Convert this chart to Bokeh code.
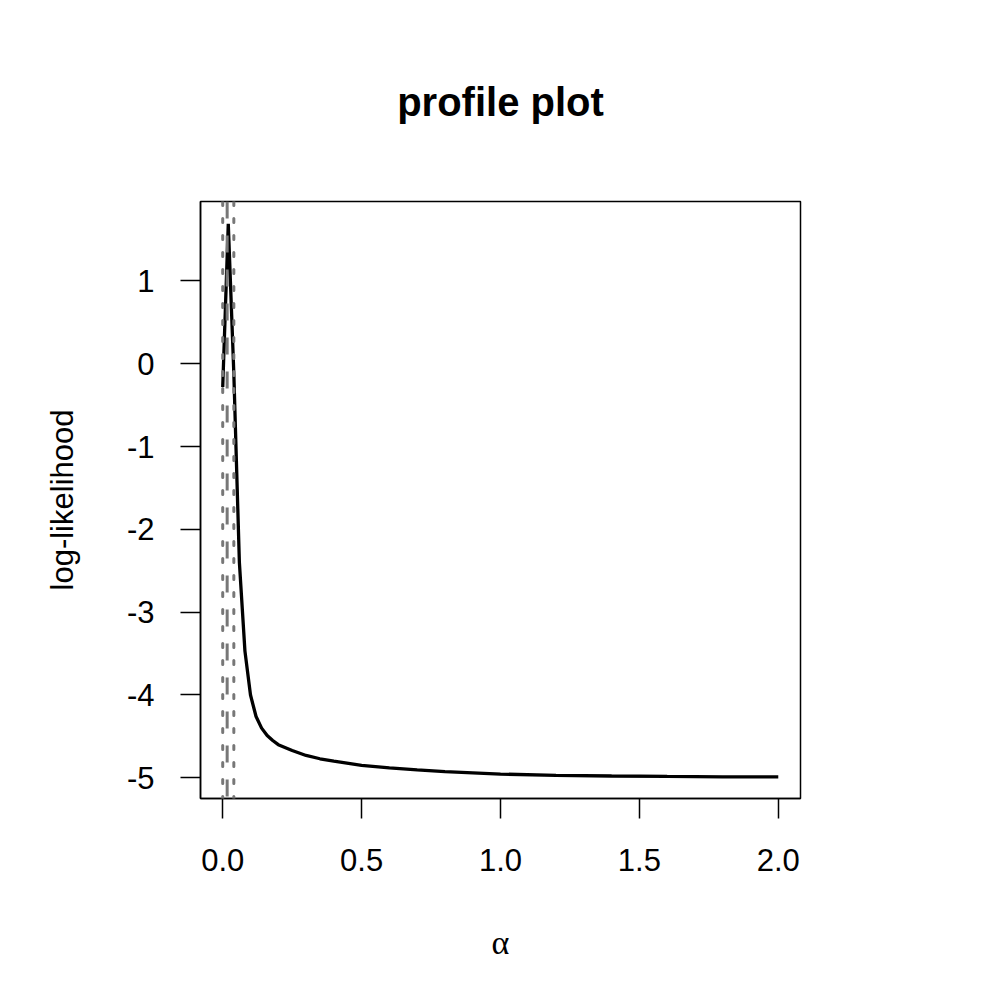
from bokeh.plotting import figure
from bokeh.models import Span, FixedTicker, Range1d
from bokeh.embed import file_html
from bokeh.resources import INLINE

# profile log-likelihood curve
alpha = [0.00, 0.02, 0.04, 0.06, 0.08, 0.10, 0.12, 0.14, 0.16, 0.18, 0.20,
         0.25, 0.30, 0.35, 0.40, 0.50, 0.60, 0.70, 0.80, 0.90, 1.00,
         1.20, 1.40, 1.60, 1.80, 2.00]
loglik = [-0.28, 1.69, -0.12, -2.40, -3.47, -4.00, -4.26, -4.40, -4.49, -4.55, -4.60,
          -4.67, -4.73, -4.77, -4.80, -4.85, -4.88, -4.905, -4.925, -4.94, -4.955,
          -4.97, -4.978, -4.984, -4.988, -4.99]

# vertical reference lines
ci_lines = [0.0, 0.04]     # dotted
mle_line = [0.016]         # dashed

x_ticks = [0.0, 0.5, 1.0, 1.5, 2.0]
x_tick_labels = ["0.0", "0.5", "1.0", "1.5", "2.0"]
y_ticks = [-5, -4, -3, -2, -1, 0, 1]
y_tick_labels = ["-5", "-4", "-3", "-2", "-1", "0", "1"]

FONT = "Liberation Sans"

p = figure(width=984, height=984, output_backend="svg", toolbar_location=None,
           x_range=Range1d(-0.08, 2.08), y_range=Range1d(-5.25, 1.96),
           min_border_left=200, min_border_right=184,
           min_border_top=200, min_border_bottom=186,
           title="profile plot")

p.title.text_font = FONT
p.title.text_font_size = "40px"
p.title.text_font_style = "bold"
p.title.align = "center"
p.title.standoff = 155
p.title.text_color = "black"

p.grid.visible = False
p.outline_line_color = "black"
p.outline_line_width = 1.5
p.background_fill_color = "white"
p.border_fill_color = "white"

p.line(alpha, loglik, line_color="black", line_width=3.3)

for xv in ci_lines:
    p.add_layout(Span(location=xv, dimension="height", line_color="#777777",
                      line_width=3, line_dash="4 13", line_cap="round"))
for xv in mle_line:
    p.add_layout(Span(location=xv, dimension="height", line_color="#777777",
                      line_width=3, line_dash="17 17"))

for ax in (p.xaxis[0], p.yaxis[0]):
    ax.axis_line_color = "black"
    ax.axis_line_width = 1.5
    ax.major_tick_line_color = "black"
    ax.major_tick_line_width = 1.5
    ax.major_tick_in = 0
    ax.major_tick_out = 20
    ax.minor_tick_line_color = None
    ax.major_label_text_font = FONT
    ax.major_label_text_font_size = "31px"
    ax.major_label_text_color = "black"
    ax.axis_label_text_font_style = "normal"
    ax.axis_label_text_color = "black"
    ax.axis_label_text_font_size = "31px"

p.xaxis[0].ticker = FixedTicker(ticks=x_ticks)
p.xaxis[0].major_label_overrides = {t: l for t, l in zip(x_ticks, x_tick_labels)}
p.xaxis[0].major_label_standoff = 30
p.yaxis[0].ticker = FixedTicker(ticks=y_ticks)
p.yaxis[0].major_label_overrides = {t: l for t, l in zip(y_ticks, y_tick_labels)}
p.yaxis[0].major_label_orientation = "horizontal"
p.yaxis[0].major_label_standoff = 26

p.xaxis[0].axis_label = "α"
p.xaxis[0].axis_label_text_font = "Liberation Serif"
p.xaxis[0].axis_label_text_font_size = "34px"
p.xaxis[0].axis_label_standoff = 50
p.yaxis[0].axis_label = "log-likelihood"
p.yaxis[0].axis_label_text_font = FONT
p.yaxis[0].axis_label_standoff = 44

open("out.html", "w").write(file_html(p, INLINE))
